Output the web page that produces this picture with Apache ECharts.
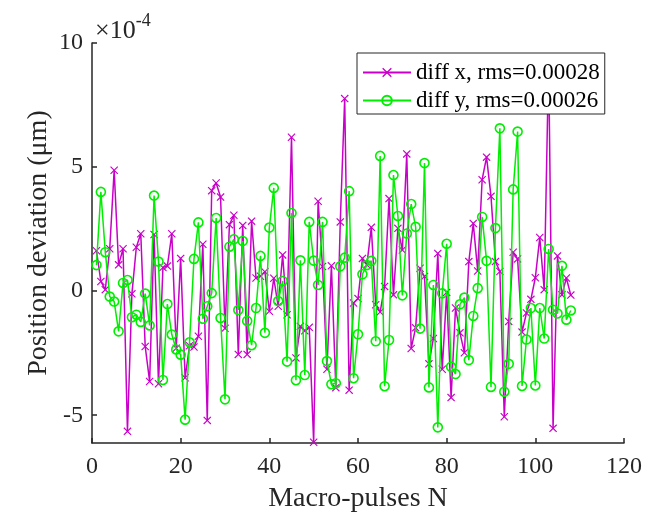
<!DOCTYPE html>
<html>
<head>
<meta charset="utf-8">
<script src="https://cdn.jsdelivr.net/npm/echarts@6/dist/echarts.min.js"></script>
<style>html,body{margin:0;padding:0;background:#fff;}#c{width:669px;height:518px;}</style>
</head>
<body>
<div id="c"></div>
<script>
// Values in units of 1e-4 (axis multiplier shown as ×10^-4)
var pulseIndex = [];
for (var k = 1; k <= 108; k++) pulseIndex.push(k);

var diffX = [1.63,0.39,0.06,1.71,4.87,1.06,1.71,-5.65,-0.11,1.77,
  2.31,-2.23,-3.64,2.28,-3.73,0.95,1.01,2.31,-2.3,1.32,
  -3.49,-2.2,-2.25,-1.82,1.89,-5.21,4.05,4.36,3.79,-1.5,
  2.68,3.06,-2.55,2.65,-2.55,2.82,0.53,0.6,0.78,-0.81,
  0.52,-0.61,1.46,-0.95,6.2,-2.69,-1.42,-1.6,-1.46,-6.09,
  3.62,0.99,-3.15,1.02,-3.89,2.79,7.76,-3.99,-0.48,-0.3,
  1.32,1.06,2.57,-0.55,-0.84,0.19,3.73,-0.15,2.53,1.66,
  5.53,-2.31,-1.48,0.92,0.59,-2.93,-1.91,1.52,-3.15,-0.05,
  -4.29,-0.68,-1.68,-2.48,1.19,2.73,0.81,4.49,5.4,3.82,
  1.19,0.79,-5.06,-1.22,1.57,1.3,-1.65,-0.88,-0.33,0.54,
  2.16,0.06,9.3,-5.53,1.42,-0.15,0.53,-0.16];

var diffY = [1.05,4.0,1.57,-0.22,-0.42,-1.62,0.33,0.45,-1.05,-0.95,
  -1.24,-0.1,-1.38,3.85,1.19,-3.58,-0.52,-1.75,-2.35,-2.56,
  -5.18,-2.06,1.3,2.77,-1.11,-0.61,-0.08,2.95,-1.08,-4.36,
  1.79,2.09,-0.76,2.02,-1.2,-2.18,-0.68,1.42,-1.68,2.56,
  4.16,-0.4,0.41,-2.84,3.15,-3.59,1.24,-3.38,2.79,1.23,
  0.25,2.79,-2.82,-3.75,-3.71,1.0,1.35,4.03,-3.51,-1.74,
  0.68,1.05,1.22,-2.02,5.45,-3.83,-1.97,4.68,3.03,-0.17,
  2.32,3.51,2.59,-1.51,5.16,-3.88,0.25,-5.49,-0.09,1.91,
  -3.05,-3.34,-0.53,-0.26,-2.78,-1.0,0.12,2.99,1.22,-3.86,
  2.54,6.56,-4.05,-2.93,4.1,6.43,-3.82,-1.95,-0.68,-3.8,
  -0.68,-1.91,1.7,-0.75,-0.9,1.02,-1.15,-0.78];

var seriesNames = ['diff x, rms=0.00028', 'diff y, rms=0.00026'];
var xTicks = [0, 20, 40, 60, 80, 100, 120];
var yTicks = [-5, 0, 5, 10];

var FONT = 'Liberation Serif';
var AX = '#262626';
var MAG = '#c800c8';
var GRN = '#00ee00';

function pairs(xs, ys) { return xs.map(function (x, i) { return [x, ys[i]]; }); }

var chart = echarts.init(document.getElementById('c'), null, { renderer: 'canvas' });
chart.setOption({
  animation: false,
  backgroundColor: '#fff',
  grid: { left: 92, top: 43, width: 532, height: 403, containLabel: false },
  xAxis: {
    type: 'value', min: 0, max: 120, interval: 20,
    name: 'Macro-pulses N', nameLocation: 'middle', nameGap: 42, nameMoveOverlap: false,
    nameTextStyle: { fontFamily: FONT, fontSize: 28, color: AX },
    axisLine: { show: true, onZero: false, lineStyle: { color: AX, width: 1.5 } },
    axisTick: { show: true, inside: true, length: 5, customValues: xTicks, lineStyle: { color: AX, width: 1.5 } },
    axisLabel: { fontFamily: FONT, fontSize: 24, color: AX, margin: 12, customValues: xTicks },
    splitLine: { show: false }
  },
  yAxis: {
    type: 'value', min: -6.12, max: 10,
    name: 'Position deviation (μm)', nameLocation: 'middle', nameGap: 39, nameRotate: 90, nameMoveOverlap: false,
    nameTextStyle: { fontFamily: FONT, fontSize: 28, color: AX },
    axisLine: { show: true, onZero: false, lineStyle: { color: AX, width: 1.5 } },
    axisTick: { show: true, inside: true, length: 5, customValues: yTicks, lineStyle: { color: AX, width: 1.5 } },
    axisLabel: { fontFamily: FONT, fontSize: 24, color: AX, margin: 9, customValues: yTicks },
    splitLine: { show: false }
  },
  legend: {
    orient: 'vertical', left: 357, top: 53,
    backgroundColor: '#fff', borderColor: AX, borderWidth: 1,
    padding: [8, 5, 2, 5], itemGap: 5, itemWidth: 48, itemHeight: 12,
    textStyle: { fontFamily: FONT, fontSize: 23, color: '#000' },
    data: seriesNames
  },
  graphic: [{
    type: 'text', left: 95, top: 12, z: 10,
    style: {
      text: '{a|×10}{b|-4}',
      rich: {
        a: { fontFamily: FONT, fontSize: 26, fill: AX, verticalAlign: 'bottom' },
        b: { fontFamily: FONT, fontSize: 18, fill: AX, verticalAlign: 'top', padding: [0, 0, 14, 0] }
      }
    }
  }],
  series: [
    {
      name: seriesNames[0], type: 'line', data: pairs(pulseIndex, diffX),
      symbol: 'path://M1,0L5,4L9,0L10,1L6,5L10,9L9,10L5,6L1,10L0,9L4,5L0,1Z',
      symbolSize: 8, showAllSymbol: true,
      lineStyle: { color: MAG, width: 1.5 },
      itemStyle: { color: MAG },
      z: 2
    },
    {
      name: seriesNames[1], type: 'line', data: pairs(pulseIndex, diffY),
      symbol: 'circle', symbolSize: 9, showAllSymbol: true,
      lineStyle: { color: GRN, width: 1.5 },
      itemStyle: { color: 'rgba(255,255,255,0)', borderColor: GRN, borderWidth: 1.6 },
      z: 3
    }
  ]
});
</script>
</body>
</html>
